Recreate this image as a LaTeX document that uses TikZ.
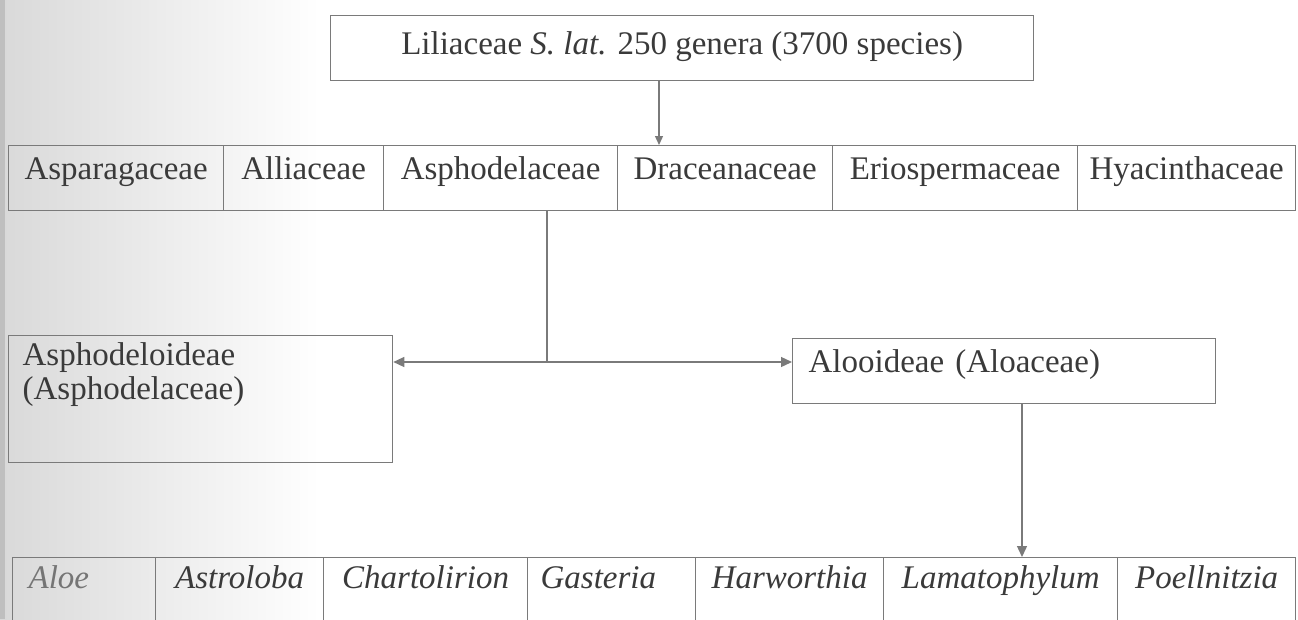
\documentclass[tikz,border=0pt]{standalone}
\usepackage{fontspec}
\setmainfont{Liberation Serif}
\usetikzlibrary{arrows.meta}
\definecolor{ln}{HTML}{7A7A7A}
\definecolor{tx}{HTML}{3A3A3A}
\begin{document}
\begin{tikzpicture}[x=1pt,y=-1pt,
  font=\fontsize{33}{34}\selectfont, text=tx,
  cell/.style={draw=ln, line width=1.3pt, inner xsep=0pt, inner ysep=0pt, anchor=north west, align=center},
  rtwo/.style={cell, text height=34pt, text depth=31pt},
  rthree/.style={cell, text height=31pt, text depth=40pt, font=\fontsize{33}{34}\selectfont\itshape},
  conn/.style={draw=ln, line width=1.3pt},
  tip/.style={-{Triangle[length=11pt,width=10pt]}}]
\useasboundingbox (0,0) rectangle (1298,619);
\clip (0,0) rectangle (1298,619);
\shade[left color=black!15, right color=white] (0,0) rectangle (320,619);
\fill[black!25] (0,0) rectangle (5,619);

% top box
\node[cell, minimum width=703pt, text height=39pt, text depth=26pt] (top) at (330,15)
  {Liliaceae \textit{S. lat.} 250 genera (3700 species)};

% row 2
\node[rtwo, minimum width=215pt] (a1) at (8,145) {Asparagaceae};
\node[rtwo, minimum width=160pt] (a2) at (223,145) {Alliaceae};
\node[rtwo, minimum width=234pt] (a3) at (383,145) {Asphodelaceae};
\node[rtwo, minimum width=215pt] (a4) at (617,145) {Draceanaceae};
\node[rtwo, minimum width=245pt] (a5) at (832,145) {Eriospermaceae};
\node[rtwo, minimum width=218pt] (a6) at (1077,145) {Hyacinthaceae};

% subfamilies
\node[cell, inner xsep=14pt, text width=356pt, align=left, text height=30pt, text depth=97pt] (b1) at (8,335)
  {Asphodeloideae\\(Asphodelaceae)};
\node[cell, inner xsep=16pt, text width=391pt, align=left, text height=34pt, text depth=31pt] (b2) at (792,338)
  {Alooideae (Aloaceae)};

% row 3
\node[rthree, inner xsep=16pt, text width=111pt, align=left, text=tx!70] (c1) at (12,557) {Aloe};
\node[rthree, minimum width=168pt] (c2) at (155,557) {Astroloba};
\node[rthree, minimum width=204pt] (c3) at (323,557) {Chartolirion};
\node[rthree, inner xsep=13pt, text width=142pt, align=left] (c4) at (527,557) {Gasteria};
\node[rthree, minimum width=188pt] (c5) at (695,557) {Harworthia};
\node[rthree, minimum width=234pt] (c6) at (883,557) {Lamatophylum};
\node[rthree, minimum width=178pt] (c7) at (1117,557) {Poellnitzia};

% connectors
\coordinate (ta) at (659,0);
\draw[conn, -{Triangle[length=9pt,width=8pt]}] (top.south -| ta) -- (a4.north -| ta);
\coordinate (j) at (547,362);
\draw[conn] (a3.south -| j) -- (j);
\draw[conn, tip] (j) -- (b1.east |- j);
\draw[conn, tip] (j) -- (b2.west |- j);
\coordinate (k) at (1022,0);
\draw[conn, tip] (b2.south -| k) -- (c6.north -| k);
\end{tikzpicture}
\end{document}
